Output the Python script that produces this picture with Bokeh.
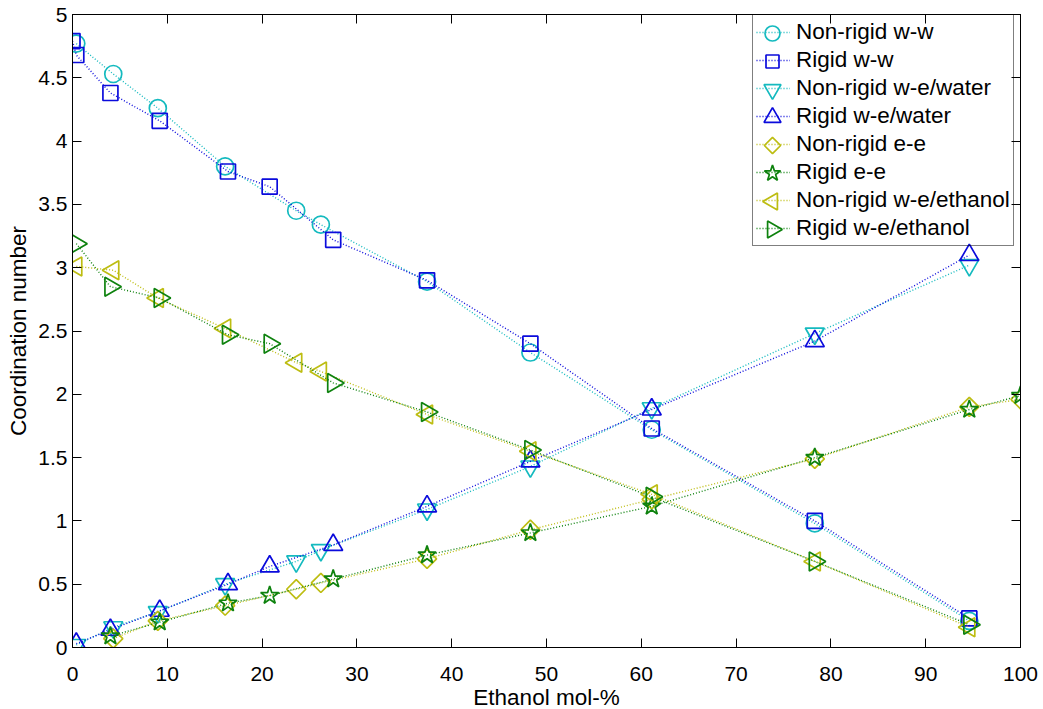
import numpy as np
from bokeh.plotting import figure
from bokeh.models import (LinearAxis, FixedTicker, CustomJSTickFormatter, Range1d,
                          Legend, LegendItem)
from bokeh.embed import file_html
from bokeh.resources import INLINE

# ---------------- data ----------------
x_nonrigid = [0.4, 4.3, 9.0, 16.1, 23.6, 26.2, 37.4, 48.3, 61.1, 78.3, 94.6]
x_rigid = [0.4, 4.0, 9.2, 16.4, 20.8, 27.5, 37.4, 48.3, 61.1, 78.3, 94.6]
x_rigid_ww = [0.0] + x_rigid
x_nonrigid_ee = x_nonrigid[1:] + [100.0]
x_rigid_ee = x_rigid[1:] + [100.0]

nonrigid_ww = [4.77, 4.53, 4.26, 3.80, 3.45, 3.34, 2.89, 2.33, 1.72, 0.98, 0.21]
rigid_ww = [4.79, 4.68, 4.38, 4.16, 3.76, 3.64, 3.22, 2.90, 2.40, 1.73, 1.00, 0.23]
nonrigid_we_water = [0.02, 0.16, 0.28, 0.50, 0.68, 0.77, 1.09, 1.43, 1.89, 2.48, 3.02]
rigid_we_water = [0.03, 0.14, 0.29, 0.50, 0.64, 0.81, 1.115, 1.47, 1.88, 2.42, 3.10]
nonrigid_ee = [0.07, 0.21, 0.33, 0.46, 0.51, 0.70, 0.93, 1.17, 1.49, 1.90, 1.96]
rigid_ee = [0.09, 0.20, 0.35, 0.41, 0.54, 0.73, 0.905, 1.115, 1.50, 1.88, 1.99]
nonrigid_we_ethanol = [3.01, 2.98, 2.76, 2.52, 2.25, 2.18, 1.84, 1.55, 1.21, 0.68, 0.16]
rigid_we_ethanol = [3.19, 2.85, 2.76, 2.47, 2.40, 2.09, 1.86, 1.56, 1.19, 0.68, 0.18]

labels = ["Non-rigid w-w", "Rigid w-w", "Non-rigid w-e/water", "Rigid w-e/water",
          "Non-rigid e-e", "Rigid e-e", "Non-rigid w-e/ethanol", "Rigid w-e/ethanol"]
x_ticks = [0, 10, 20, 30, 40, 50, 60, 70, 80, 90, 100]
y_ticks = [0, 0.5, 1, 1.5, 2, 2.5, 3, 3.5, 4, 4.5, 5]

CYAN = "#14BABF"
BLUE = "#0B0BDC"
YELLOW = "#BDBD12"
GREEN = "#0E820E"

series = [
    (labels[0], x_nonrigid, nonrigid_ww, CYAN, "circle", 0.0, 17),
    (labels[1], x_rigid_ww, rigid_ww, BLUE, "square", 0.0, 15),
    (labels[2], x_nonrigid, nonrigid_we_water, CYAN, "inverted_triangle", 0.0, 19),
    (labels[3], x_rigid, rigid_we_water, BLUE, "triangle", 0.0, 19),
    (labels[4], x_nonrigid_ee, nonrigid_ee, YELLOW, "square", np.pi / 4, 13.5),
    (labels[5], x_rigid_ee, rigid_ee, GREEN, "star", 0.0, 19),
    (labels[6], x_nonrigid, nonrigid_we_ethanol, YELLOW, "triangle", np.pi / 2, 19),
    (labels[7], x_rigid, rigid_we_ethanol, GREEN, "triangle", -np.pi / 2, 19),
]

FONT = "Liberation Sans"
FW, FH = 948, 633

p = figure(
    frame_width=FW, frame_height=FH,
    min_border_left=72, min_border_top=14, min_border_right=20, min_border_bottom=50,
    x_range=Range1d(0, 100), y_range=Range1d(0, 5),
    output_backend="svg", toolbar_location=None,
    background_fill_color="white", border_fill_color="white",
)
p.outline_line_color = "black"
p.outline_line_width = 1
p.xgrid.visible = False
p.ygrid.visible = False

# legend geometry (screen pixels inside the frame)
LEG_LEFT, LEG_TOP, PAD, ROW, GW = 680, 2, 3, 28, 34
LEG_H = 2 * PAD + ROW * len(series)
p.extra_x_ranges = {"lx": Range1d(0, FW)}
p.extra_y_ranges = {"ly": Range1d(0, FH)}

items = []
for i, (lab, xs, ys, col, mk, ang, sz) in enumerate(series):
    r_line = p.line(xs, ys, line_color=col, line_dash="1 2", line_width=1.4)
    p.scatter(xs, ys, marker=mk, size=sz, angle=ang, fill_color=None,
              line_color=col, line_width=1.7)
    items.append(LegendItem(label=lab, renderers=[r_line]))
    # legend key marker (drawn beneath a transparent legend box)
    kx = LEG_LEFT + PAD + GW / 2
    ky = FH - (LEG_TOP + PAD + i * ROW + ROW / 2)
    p.scatter([kx], [ky], marker=mk, size=sz - 2, angle=ang, fill_color=None,
              line_color=col, line_width=1.7, x_range_name="lx", y_range_name="ly")

fmt = CustomJSTickFormatter(code="return tick.toString();")
empty = CustomJSTickFormatter(code="return '';")


def style_axis(ax, show_labels):
    ax.axis_line_color = "black"
    ax.major_tick_line_color = "black"
    ax.major_tick_in = 9
    ax.major_tick_out = 0
    ax.minor_tick_line_color = None
    ax.major_label_text_font = FONT
    ax.major_label_text_font_size = "21px"
    ax.major_label_text_color = "black"
    ax.axis_label_text_font = FONT
    ax.axis_label_text_font_size = "22.5px"
    ax.axis_label_text_font_style = "normal"
    ax.axis_label_text_color = "black"
    if not show_labels:
        ax.formatter = empty
        ax.major_label_text_font_size = "0px"
        ax.major_label_standoff = 0


xa = p.xaxis[0]
xa.ticker = FixedTicker(ticks=x_ticks)
xa.formatter = fmt
style_axis(xa, True)
xa.major_label_standoff = 19
xa.axis_label = "Ethanol mol-%"
xa.axis_label_standoff = 1

ya = p.yaxis[0]
ya.ticker = FixedTicker(ticks=y_ticks)
ya.formatter = fmt
style_axis(ya, True)
ya.major_label_standoff = 5
ya.axis_label = "Coordination number"
ya.axis_label_standoff = 4

top = LinearAxis(ticker=FixedTicker(ticks=x_ticks))
style_axis(top, False)
p.add_layout(top, "above")
right = LinearAxis(ticker=FixedTicker(ticks=y_ticks))
style_axis(right, False)
p.add_layout(right, "right")

lg = Legend(items=items, location=(LEG_LEFT, FH - LEG_TOP - LEG_H))
lg.margin = 0
lg.padding = PAD
lg.spacing = 0
lg.glyph_width = GW
lg.glyph_height = ROW
lg.label_height = ROW
lg.label_standoff = 6
lg.label_text_font = FONT
lg.label_text_font_size = "22.5px"
lg.label_text_color = "black"
lg.border_line_color = "black"
lg.border_line_width = 1
lg.background_fill_alpha = 0.0
p.add_layout(lg)

open("out.html", "w").write(file_html(p, INLINE))
